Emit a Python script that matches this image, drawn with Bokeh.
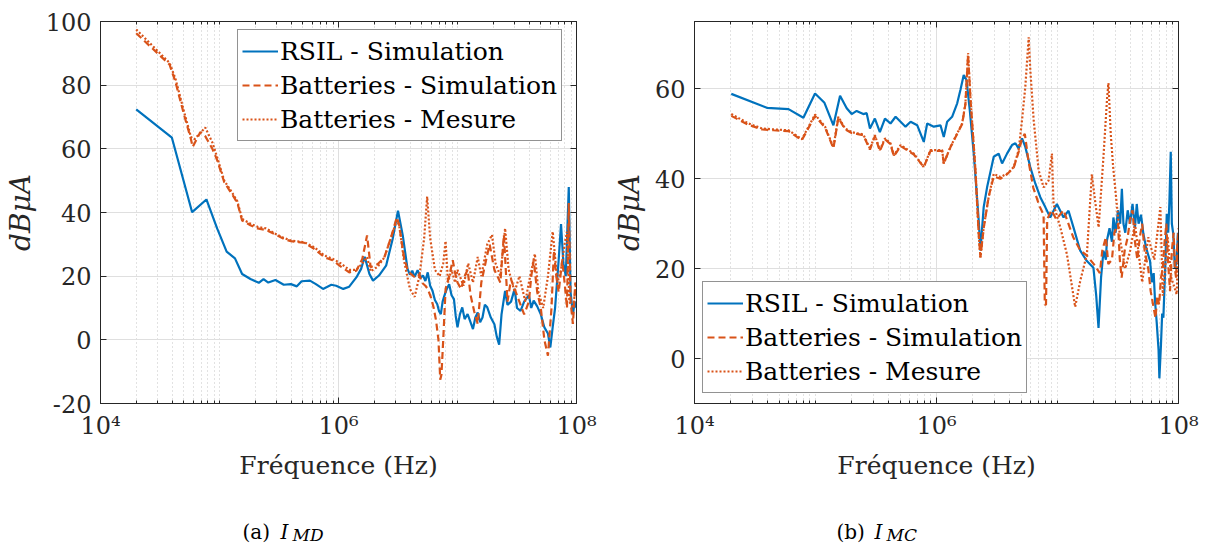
from bokeh.plotting import figure
from bokeh.models import (FixedTicker, LogAxis, LinearAxis, Range1d, Legend, LegendItem, ColumnDataSource)
from bokeh.core.properties import value
from bokeh.layouts import row, column
from bokeh.embed import file_html
from bokeh.resources import INLINE

FONT = "DejaVu Serif"
BLUE = "#0072BD"
ORANGE = "#D95319"
INK = "#262626"

X_TICKS = [1e4, 1e6, 1e8]
X_TICK_LABELS = {1e4: "10\u2074", 1e6: "10\u2076", 1e8: "10\u2078"}
LEFT_Y_TICKS = [-20, 0, 20, 40, 60, 80, 100]
RIGHT_Y_TICKS = [0, 20, 40, 60]
SERIES_NAMES = ["RSIL - Simulation", "Batteries - Simulation", "Batteries - Mesure"]
X_LABEL = "Fréquence (Hz)"
Y_LABEL = "dBμA"
CAPTIONS = [("(a)", "I", "MD"), ("(b)", "I", "MC")]

# (log10 frequency [Hz], level [dBuA])
left_rsil = [(4.30,72.4),(4.60,63.5),(4.77,40.1),(4.89,44.1),(4.98,35.0),(5.06,27.7),(5.13,25.6),(5.19,20.7),(5.26,19.1),(5.33,17.9),(5.37,19.1),(5.41,18.0),(5.47,18.8),(5.54,17.3),(5.60,17.5),(5.65,16.8),(5.69,18.4),(5.76,18.6),(5.81,17.5),(5.87,16.0),(5.94,17.3),(5.98,17.0),(6.04,16.0),(6.09,16.7),(6.15,19.6),(6.19,22.3),(6.22,26.1),(6.26,20.7),(6.29,18.6),(6.34,20.2),(6.40,23.3),(6.455,31.7),(6.50,40.6),(6.54,32.8),(6.58,22.3),(6.60,20.5),(6.62,21.7),(6.64,19.8),(6.665,21.9),(6.69,19.5),(6.71,20.2),(6.73,18.5),(6.75,21.2),(6.77,17.0),(6.79,15.4),(6.81,12.5),(6.83,11.2),(6.845,9.0),(6.86,8.1),(6.875,12.0),(6.89,13.9),(6.91,16.0),(6.93,17.5),(6.95,14.0),(6.97,12.8),(6.985,7.5),(7.00,3.9),(7.02,8.0),(7.04,10.2),(7.06,6.5),(7.085,8.1),(7.11,5.5),(7.13,3.4),(7.15,7.0),(7.17,8.6),(7.19,5.5),(7.21,7.0),(7.23,11.0),(7.25,10.2),(7.28,7.0),(7.31,4.9),(7.33,1.0),(7.35,-1.5),(7.37,8.0),(7.40,15.4),(7.42,11.0),(7.45,12.0),(7.48,16.0),(7.50,10.0),(7.53,9.1),(7.56,12.0),(7.60,14.0),(7.62,10.0),(7.64,12.3),(7.67,10.5),(7.70,8.0),(7.73,3.9),(7.76,2.0),(7.78,-2.4),(7.80,4.0),(7.82,10.0),(7.85,25.0),(7.87,36.4),(7.89,24.0),(7.91,20.0),(7.935,48.0),(7.95,15.0),(7.97,8.0),(7.985,12.0),(8.00,10.0)]
left_batt_sim = [(4.30,96.3),(4.58,86.5),(4.63,81.0),(4.70,71.0),(4.76,63.0),(4.775,60.6),(4.84,65.3),(4.88,64.0),(4.94,60.0),(4.98,56.5),(5.04,49.5),(5.11,45.5),(5.15,43.0),(5.19,37.5),(5.26,36.0),(5.32,35.0),(5.39,34.5),(5.46,33.3),(5.54,31.7),(5.60,31.0),(5.71,30.5),(5.80,28.5),(5.88,26.0),(5.95,25.0),(6.02,23.0),(6.09,21.2),(6.15,21.7),(6.20,25.4),(6.24,32.8),(6.27,22.8),(6.33,23.8),(6.385,25.9),(6.44,32.0),(6.49,38.5),(6.51,36.0),(6.55,26.0),(6.58,22.0),(6.60,21.0),(6.63,20.0),(6.65,19.5),(6.68,20.5),(6.70,18.0),(6.73,17.0),(6.75,16.0),(6.78,13.0),(6.80,10.0),(6.82,6.0),(6.84,0.0),(6.855,-12.5),(6.865,-11.0),(6.88,0.0),(6.90,16.0),(6.93,20.0),(6.96,25.0),(6.98,21.0),(7.00,18.0),(7.03,16.0),(7.06,20.0),(7.085,22.0),(7.11,14.0),(7.14,9.0),(7.17,5.0),(7.20,18.0),(7.24,25.0),(7.27,30.0),(7.29,26.0),(7.31,22.0),(7.36,18.0),(7.39,33.0),(7.42,12.0),(7.45,19.0),(7.48,16.0),(7.52,12.0),(7.56,8.0),(7.60,12.0),(7.62,20.0),(7.64,25.0),(7.67,15.0),(7.70,10.0),(7.73,0.0),(7.76,-5.0),(7.79,10.0),(7.81,28.0),(7.83,20.0),(7.85,15.0),(7.88,25.0),(7.90,18.0),(7.92,10.0),(7.935,43.0),(7.95,12.0),(7.97,5.0),(7.99,18.0),(8.00,14.0)]
left_batt_mes = [(4.30,97.5),(4.58,87.0),(4.63,82.0),(4.70,72.0),(4.76,63.7),(4.79,63.0),(4.88,66.7),(4.94,62.0),(4.98,57.4),(5.04,50.0),(5.11,46.0),(5.15,43.5),(5.19,38.0),(5.26,36.5),(5.32,35.5),(5.39,35.0),(5.46,33.5),(5.54,32.0),(5.60,31.2),(5.71,30.7),(5.80,29.0),(5.88,26.5),(5.95,25.5),(6.02,24.0),(6.09,22.0),(6.15,22.0),(6.20,24.0),(6.24,26.0),(6.27,21.5),(6.33,23.0),(6.385,25.9),(6.44,32.0),(6.49,37.5),(6.51,36.0),(6.55,25.0),(6.60,16.0),(6.64,13.5),(6.68,20.0),(6.72,32.0),(6.745,45.0),(6.77,32.0),(6.81,22.0),(6.85,20.0),(6.88,24.0),(6.90,31.0),(6.92,18.0),(6.95,22.0),(6.98,18.0),(7.00,22.0),(7.05,17.0),(7.09,24.0),(7.13,18.0),(7.17,26.0),(7.20,20.0),(7.25,30.0),(7.29,33.0),(7.32,24.0),(7.36,20.0),(7.40,35.0),(7.43,22.0),(7.48,15.0),(7.52,20.0),(7.57,12.0),(7.60,18.0),(7.65,27.0),(7.68,15.0),(7.72,10.0),(7.76,20.0),(7.80,34.0),(7.84,18.0),(7.87,22.0),(7.90,30.0),(7.92,34.0),(7.94,12.0),(7.97,10.0),(8.00,18.0)]

right_rsil = [(4.304,58.9),(4.598,55.8),(4.777,55.5),(4.90,53.6),(4.996,59.0),(5.074,56.9),(5.148,51.9),(5.203,58.5),(5.258,55.7),(5.299,54.4),(5.34,55.1),(5.395,54.4),(5.423,54.6),(5.45,51.2),(5.491,53.4),(5.532,50.4),(5.574,53.4),(5.62,52.3),(5.662,53.8),(5.703,52.7),(5.744,51.6),(5.786,52.7),(5.841,51.9),(5.895,48.2),(5.923,52.3),(5.978,51.6),(6.033,51.9),(6.06,49.3),(6.088,52.7),(6.129,53.8),(6.171,56.8),(6.198,59.8),(6.225,63.1),(6.248,62.0),(6.275,55.3),(6.308,45.6),(6.349,30.7),(6.363,24.0),(6.39,33.7),(6.418,38.1),(6.473,44.9),(6.514,45.6),(6.542,43.4),(6.583,45.6),(6.624,47.5),(6.652,47.9),(6.679,46.7),(6.707,49.0),(6.734,47.1),(6.775,42.6),(6.817,38.9),(6.858,35.9),(6.899,33.7),(6.94,31.4),(6.995,34.4),(7.05,31.4),(7.091,32.9),(7.132,29.2),(7.188,24.0),(7.243,21.7),(7.297,20.2),(7.32,14.0),(7.339,6.8),(7.36,18.0),(7.38,24.0),(7.40,22.0),(7.408,26.2),(7.43,29.0),(7.45,26.0),(7.462,31.4),(7.48,28.0),(7.50,33.0),(7.518,30.0),(7.532,37.8),(7.545,30.0),(7.56,28.0),(7.58,33.0),(7.60,30.0),(7.62,34.4),(7.64,29.0),(7.655,34.4),(7.67,30.0),(7.69,32.0),(7.71,27.7),(7.73,25.0),(7.75,23.0),(7.765,21.7),(7.78,17.0),(7.795,19.0),(7.806,12.8),(7.82,8.0),(7.835,2.0),(7.842,-4.4),(7.855,3.0),(7.865,10.0),(7.875,9.1),(7.89,20.0),(7.903,32.2),(7.915,28.0),(7.925,35.0),(7.936,46.0),(7.945,30.0),(7.957,27.7),(7.97,20.0),(7.985,21.7),(7.995,28.0),(8.0,24.0)]
right_batt_sim = [(4.304,54.0),(4.447,52.0),(4.557,51.0),(4.653,50.8),(4.777,50.6),(4.887,48.6),(4.996,54.0),(5.079,51.4),(5.148,46.8),(5.189,53.6),(5.244,51.0),(5.299,50.2),(5.34,50.0),(5.395,49.7),(5.45,46.5),(5.491,49.5),(5.532,46.2),(5.574,48.8),(5.62,47.7),(5.648,45.0),(5.703,47.3),(5.813,45.4),(5.895,42.6),(5.95,46.2),(6.047,46.2),(6.06,43.4),(6.115,47.0),(6.171,50.0),(6.212,52.2),(6.239,56.6),(6.261,67.5),(6.28,58.0),(6.322,41.8),(6.349,27.5),(6.363,22.5),(6.39,29.0),(6.431,36.0),(6.473,40.5),(6.528,40.0),(6.583,41.0),(6.638,42.5),(6.679,46.0),(6.707,49.0),(6.73,50.0),(6.76,44.0),(6.80,38.0),(6.85,34.0),(6.885,32.0),(6.895,12.0),(6.905,12.0),(6.915,31.0),(6.95,33.0),(6.99,31.0),(7.05,33.0),(7.09,30.0),(7.13,27.0),(7.19,24.0),(7.24,23.0),(7.30,21.0),(7.35,19.0),(7.37,24.0),(7.40,27.0),(7.42,21.0),(7.45,22.0),(7.47,28.0),(7.50,30.0),(7.515,22.0),(7.53,18.0),(7.555,24.0),(7.58,27.0),(7.60,31.0),(7.62,33.0),(7.64,26.0),(7.66,22.0),(7.68,27.0),(7.70,30.0),(7.72,24.0),(7.75,20.0),(7.77,15.0),(7.79,12.0),(7.81,9.0),(7.825,14.0),(7.84,12.0),(7.855,18.0),(7.87,20.0),(7.885,26.0),(7.90,30.0),(7.915,21.0),(7.93,15.0),(7.945,24.0),(7.96,28.0),(7.97,20.0),(7.98,18.0),(7.99,25.0),(8.0,29.0)]
right_batt_mes = [(4.304,54.4),(4.447,52.3),(4.557,51.2),(4.653,51.0),(4.777,50.8),(4.887,48.8),(4.996,54.3),(5.079,51.6),(5.148,47.0),(5.189,53.8),(5.244,51.2),(5.299,50.4),(5.34,50.1),(5.395,49.9),(5.45,46.7),(5.491,49.7),(5.532,46.4),(5.574,49.0),(5.62,47.9),(5.648,45.2),(5.703,47.5),(5.813,45.6),(5.895,42.6),(5.95,46.4),(6.047,46.4),(6.06,43.4),(6.115,47.1),(6.171,50.1),(6.212,52.3),(6.239,56.8),(6.261,68.0),(6.28,58.3),(6.322,41.9),(6.349,27.7),(6.363,22.5),(6.39,29.2),(6.431,35.9),(6.473,41.1),(6.528,40.4),(6.583,41.1),(6.638,42.6),(6.679,46.4),(6.707,53.1),(6.734,60.5),(6.762,71.5),(6.775,64.3),(6.803,53.1),(6.844,41.9),(6.885,38.1),(6.926,39.6),(6.954,45.6),(6.967,34.4),(7.023,29.2),(7.078,23.2),(7.146,11.5),(7.188,17.3),(7.243,23.2),(7.284,41.0),(7.311,35.0),(7.34,29.2),(7.38,45.0),(7.41,58.0),(7.421,61.3),(7.44,50.0),(7.46,42.6),(7.52,26.0),(7.56,20.0),(7.60,24.0),(7.64,30.0),(7.70,17.0),(7.75,27.0),(7.80,22.0),(7.85,33.7),(7.87,14.0),(7.91,27.0),(7.94,18.0),(7.985,14.3),(8.0,27.0)]


def split(pairs):
    return [10 ** lf for lf, _ in pairs], [v for _, v in pairs]


def make_panel(width, height, bl, br, bt, bb, yr, yticks, series, legend_loc):
    p = figure(width=width, height=height, x_axis_type="log", output_backend="svg",
               toolbar_location=None, x_range=Range1d(1e4, 1e8), y_range=Range1d(*yr),
               min_border_left=bl, min_border_right=br, min_border_top=bt, min_border_bottom=bb,
               background_fill_color="white", border_fill_color="white")
    minor = [k * 10 ** n for n in range(4, 8) for k in range(1, 10) if not (k == 1 and n % 2 == 0)]
    xt = FixedTicker(ticks=X_TICKS, minor_ticks=minor)
    yt = FixedTicker(ticks=yticks)
    p.xaxis.ticker = xt
    p.xgrid.ticker = xt
    p.yaxis.ticker = yt
    p.ygrid.ticker = yt
    p.xaxis.major_label_overrides = X_TICK_LABELS
    p.yaxis.major_label_overrides = {t: str(t) for t in yticks}

    for ax in (p.xaxis, p.yaxis):
        ax.major_tick_in = 6
        ax.major_tick_out = 0
        ax.minor_tick_in = 3
        ax.minor_tick_out = 0
        ax.axis_line_color = INK
        ax.major_tick_line_color = INK
        ax.minor_tick_line_color = INK
        ax.major_label_text_font = FONT
        ax.major_label_text_font_size = "24px"
        ax.major_label_text_color = INK
        ax.axis_label_text_font = FONT
        ax.axis_label_text_color = INK
    p.yaxis.minor_tick_in = 0
    p.xaxis.axis_label = X_LABEL
    p.xaxis.axis_label_text_font_size = "25px"
    p.xaxis.axis_label_text_font_style = "normal"
    p.xaxis.major_label_standoff = 8
    p.xaxis.axis_label_standoff = 8
    p.yaxis.axis_label = Y_LABEL
    p.yaxis.axis_label_text_font_size = "28px"
    p.yaxis.axis_label_text_font_style = "italic"
    p.yaxis.major_label_standoff = 9
    p.yaxis.axis_label_standoff = 6

    top = LogAxis(ticker=xt, major_label_text_font_size="1px", major_label_text_alpha=0,
                  major_tick_in=6, major_tick_out=0,
                  minor_tick_in=3, minor_tick_out=0, axis_line_color=INK,
                  major_tick_line_color=INK, minor_tick_line_color=INK, major_label_standoff=0)
    p.add_layout(top, "above")
    right = LinearAxis(ticker=yt, major_label_text_font_size="1px", major_label_text_alpha=0,
                       major_tick_in=6, major_tick_out=0,
                       minor_tick_in=0, minor_tick_out=0, axis_line_color=INK,
                       major_tick_line_color=INK, major_label_standoff=0)
    p.add_layout(right, "right")

    p.xgrid.grid_line_color = "#dfdfdf"
    p.ygrid.grid_line_color = "#dfdfdf"
    p.xgrid.minor_grid_line_color = "#c4c4c4"
    p.xgrid.minor_grid_line_dash = "1 3"
    p.outline_line_color = INK

    styles = [(BLUE, "solid", 2.2), (ORANGE, "7 4", 2.2), (ORANGE, "2 2", 2.2)]
    items = []
    for (pairs, name, (col, dash, lw)) in zip(series, SERIES_NAMES, styles):
        xs, ys = split(pairs)
        r = p.line(xs, ys, line_color=col, line_dash=dash, line_width=lw)
        items.append(LegendItem(label=name, renderers=[r]))
    leg = Legend(items=items, location=legend_loc, label_text_font=FONT, label_text_font_size="25px",
                 label_text_color="black", glyph_width=36, glyph_height=34, label_height=34,
                 label_standoff=2, spacing=0, padding=4, margin=0, border_line_color=INK,
                 border_line_width=1, background_fill_alpha=1)
    p.add_layout(leg)
    return p


p1 = make_panel(600, 495, 99, 24, 21, 92, (-20, 100), LEFT_Y_TICKS,
                [left_rsil, left_batt_sim, left_batt_mes], (137, 262))
p2 = make_panel(600, 495, 94, 22, 20, 92, (-10, 75), RIGHT_Y_TICKS,
                [right_rsil, right_batt_sim, right_batt_mes], (8, 10))

# caption strip
cap = figure(width=1200, height=52, output_backend="svg", toolbar_location=None,
             x_range=Range1d(0, 1200), y_range=Range1d(0, 52),
             x_axis_location=None, y_axis_location=None,
             min_border_left=0, min_border_right=0, min_border_top=0, min_border_bottom=0,
             background_fill_color="white", border_fill_color="white")
cap.outline_line_color = None
cap.xgrid.visible = False
cap.ygrid.visible = False
starts = [242, 836]
main_src = ColumnDataSource(dict(x=[s for s in starts], y=[16, 16], t=[c[0] for c in CAPTIONS]))
sym_src = ColumnDataSource(dict(x=[s + 38 for s in starts], y=[16, 16], t=[c[1] for c in CAPTIONS]))
sub_src = ColumnDataSource(dict(x=[s + 50 for s in starts], y=[12.5, 12.5], t=[c[2] for c in CAPTIONS]))
cap.text(x="x", y="y", text="t", source=main_src, text_font=value(FONT), text_font_size="20px",
         text_baseline="alphabetic", text_color="black")
cap.text(x="x", y="y", text="t", source=sym_src, text_font=value(FONT), text_font_size="20px",
         text_font_style="italic", text_baseline="alphabetic", text_color="black")
cap.text(x="x", y="y", text="t", source=sub_src, text_font=value(FONT), text_font_size="17px",
         text_font_style="italic", text_baseline="alphabetic", text_color="black")

layout = column(row(p1, p2), cap)
open("out.html", "w").write(file_html(layout, INLINE))
